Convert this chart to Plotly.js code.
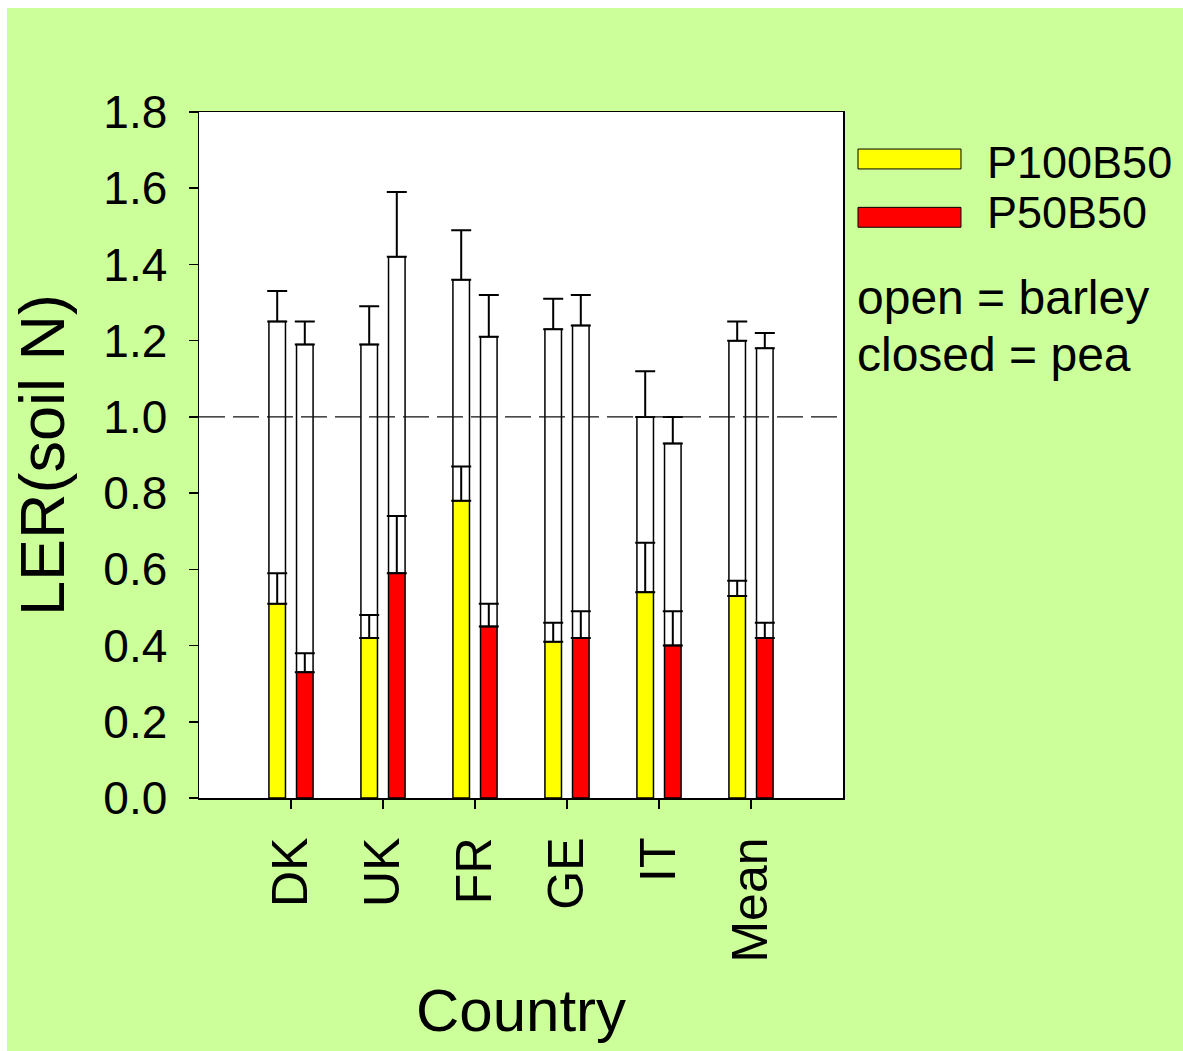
<!DOCTYPE html>
<html>
<head>
<meta charset="utf-8">
<script src="https://cdn.plot.ly/plotly-3.0.1.min.js"></script>
<style>
  html, body { margin: 0; padding: 0; background: #ffffff; }
  #chart { position: absolute; left: 7px; top: 8px; width: 1176px; height: 1043px; }
</style>
</head>
<body>
<div id="chart"></div>
<script>
// ---- data ----
const categories = ['DK', 'UK', 'FR', 'GE', 'IT', 'Mean'];
const seriesNames = ['P100B50', 'P50B50'];
const noteLines = ['open = barley', 'closed = pea'];

// pea (closed) part
const peaP100 = [0.51, 0.42, 0.78, 0.41, 0.54, 0.53];
const peaP100Err = [0.08, 0.06, 0.09, 0.05, 0.13, 0.04];
const peaP50 = [0.33, 0.59, 0.45, 0.42, 0.40, 0.42];
const peaP50Err = [0.05, 0.15, 0.06, 0.07, 0.09, 0.04];

// total LER (pea + barley)
const totalP100 = [1.25, 1.19, 1.36, 1.23, 1.00, 1.20];
const totalP100Err = [0.08, 0.10, 0.13, 0.08, 0.12, 0.05];
const totalP50 = [1.19, 1.42, 1.21, 1.24, 0.93, 1.18];
const totalP50Err = [0.06, 0.17, 0.11, 0.08, 0.07, 0.04];

const refLine = 1.0;
const yTickVals = [0.0, 0.2, 0.4, 0.6, 0.8, 1.0, 1.2, 1.4, 1.6, 1.8];
const yTickText = ['0.0', '0.2', '0.4', '0.6', '0.8', '1.0', '1.2', '1.4', '1.6', '1.8'];

// ---- styles ----
const FONT = 'Liberation Sans, Arial, sans-serif';
const BAR_W = 0.18;
const OFFSETS = [-0.24, 0.06];
const COLORS = ['#FFFF00', '#FF0000'];

function errUp(arr) {
  return {
    type: 'data', symmetric: false, array: arr, arrayminus: arr.map(() => 0),
    color: '#000000', thickness: 2, width: 10, visible: true
  };
}

const barleyP100 = totalP100.map((t, i) => t - peaP100[i]);
const barleyP50 = totalP50.map((t, i) => t - peaP50[i]);

const traces = [
  { type: 'bar', x: categories, y: barleyP100, base: peaP100, offset: OFFSETS[0], width: BAR_W,
    marker: { color: '#FFFFFF', line: { color: '#000000', width: 1.5 } },
    error_y: errUp(totalP100Err), showlegend: false, hoverinfo: 'skip' },
  { type: 'bar', x: categories, y: barleyP50, base: peaP50, offset: OFFSETS[1], width: BAR_W,
    marker: { color: '#FFFFFF', line: { color: '#000000', width: 1.5 } },
    error_y: errUp(totalP50Err), showlegend: false, hoverinfo: 'skip' },
  { type: 'bar', x: categories, y: peaP100, offset: OFFSETS[0], width: BAR_W, name: seriesNames[0],
    marker: { color: COLORS[0], line: { color: '#000000', width: 1.5 } },
    error_y: errUp(peaP100Err), showlegend: false },
  { type: 'bar', x: categories, y: peaP50, offset: OFFSETS[1], width: BAR_W, name: seriesNames[1],
    marker: { color: COLORS[1], line: { color: '#000000', width: 1.5 } },
    error_y: errUp(peaP50Err), showlegend: false }
];

// custom legend (paper coordinates)
const legendBoxes = [
  { y0: 0.917, y1: 0.946, ty: 0.927 },
  { y0: 0.832, y1: 0.861, ty: 0.853 }
];
const shapes = [
  { type: 'line', xref: 'paper', x0: 0, x1: 1, yref: 'y', y0: refLine, y1: refLine,
    line: { color: '#111111', width: 1.3, dash: '26px,8px' }, layer: 'above' }
];
const annotations = [];
seriesNames.forEach((name, i) => {
  shapes.push({ type: 'rect', xref: 'paper', yref: 'paper', x0: 1.0233, x1: 1.1832,
    y0: legendBoxes[i].y0, y1: legendBoxes[i].y1, fillcolor: COLORS[i],
    line: { color: '#000000', width: 1 } });
  annotations.push({ xref: 'paper', yref: 'paper', x: 1.2205, y: legendBoxes[i].ty,
    xanchor: 'left', yanchor: 'middle', showarrow: false, text: name,
    font: { family: FONT, size: 45, color: '#000000' } });
});
const noteY = [0.729, 0.647];
noteLines.forEach((t, i) => {
  annotations.push({ xref: 'paper', yref: 'paper', x: 1.0186, y: noteY[i],
    xanchor: 'left', yanchor: 'middle', showarrow: false, text: t,
    font: { family: FONT, size: 48, color: '#000000' } });
});

const layout = {
  width: 1176, height: 1043,
  margin: { l: 192, r: 340, t: 104, b: 253, pad: 0 },
  paper_bgcolor: '#CCFF99',
  plot_bgcolor: '#FFFFFF',
  barmode: 'overlay',
  font: { family: FONT, color: '#000000' },
  xaxis: {
    type: 'category', range: [-1, 6], automargin: false,
    showgrid: false, zeroline: false,
    showline: true, linecolor: '#000000', linewidth: 1.5, mirror: true,
    ticks: 'outside', ticklen: 9, tickwidth: 1.5, tickcolor: '#000000',
    tickangle: -90, ticklabelstandoff: 9,
    tickfont: { family: FONT, size: 50, color: '#000000' },
    title: { text: 'Country', font: { family: FONT, size: 60, color: '#000000' }, standoff: 27 }
  },
  yaxis: {
    range: [0, 1.8], automargin: false,
    tickmode: 'array', tickvals: yTickVals, ticktext: yTickText,
    showgrid: false, zeroline: false,
    showline: true, linecolor: '#000000', linewidth: 1.5, mirror: true,
    ticks: 'outside', ticklen: 9, tickwidth: 1.5, tickcolor: '#000000',
    ticklabelstandoff: 12,
    tickfont: { family: FONT, size: 46, color: '#000000' },
    title: { text: 'LER(soil N)', font: { family: FONT, size: 63, color: '#000000' }, standoff: 24 }
  },
  shapes: shapes,
  annotations: annotations,
  showlegend: false
};

Plotly.newPlot('chart', traces, layout, { staticPlot: true, displayModeBar: false });
</script>
</body>
</html>
